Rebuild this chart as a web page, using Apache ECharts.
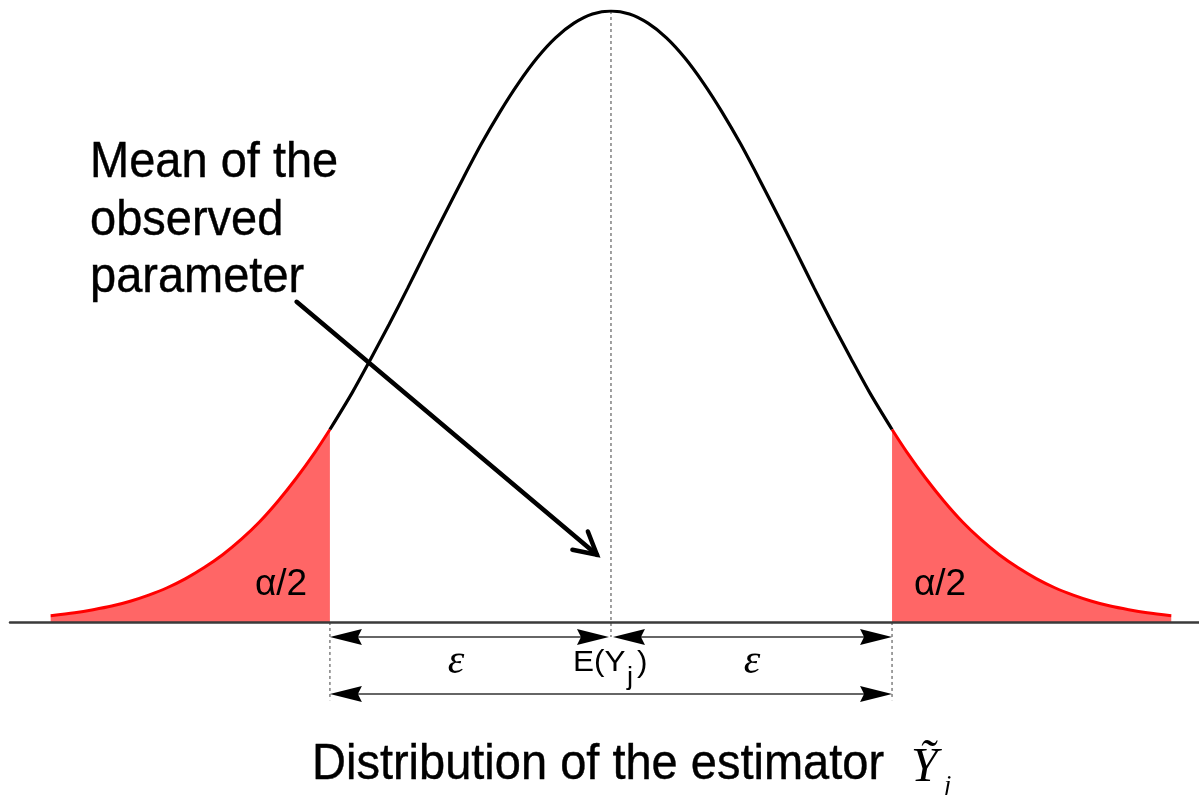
<!DOCTYPE html>
<html>
<head>
<meta charset="utf-8">
<script src="https://cdn.jsdelivr.net/npm/echarts@6/dist/echarts.min.js"></script>
<style>
  html, body { margin: 0; padding: 0; background: #fff; }
  #chart { width: 1199px; height: 795px; }
</style>
</head>
<body>
<div id="chart"></div>
<script>
// Sampled density of the estimator, x in standard deviations, height relative to the peak
const curveX = [-3.03, -2.9, -2.8, -2.7, -2.6, -2.5, -2.4, -2.3, -2.2, -2.1, -2.0, -1.9, -1.8, -1.7, -1.6, -1.52,
                -1.4, -1.3, -1.2, -1.1, -1.0, -0.9, -0.8, -0.7, -0.6, -0.5, -0.4, -0.3, -0.2, -0.1, 0,
                0.1, 0.2, 0.3, 0.4, 0.5, 0.6, 0.7, 0.8, 0.9, 1.0, 1.1, 1.2, 1.3, 1.4,
                1.52, 1.6, 1.7, 1.8, 1.9, 2.0, 2.1, 2.2, 2.3, 2.4, 2.5, 2.6, 2.7, 2.8, 2.9, 3.03];
const curveY = [0.010, 0.015, 0.020, 0.026, 0.034, 0.044, 0.056, 0.071, 0.089, 0.110, 0.135, 0.164, 0.198, 0.236, 0.278, 0.315,
                0.375, 0.430, 0.487, 0.546, 0.607, 0.667, 0.726, 0.783, 0.835, 0.882, 0.923, 0.956, 0.980, 0.995, 1.000,
                0.995, 0.980, 0.956, 0.923, 0.882, 0.835, 0.783, 0.726, 0.667, 0.607, 0.546, 0.487, 0.430, 0.375,
                0.315, 0.278, 0.236, 0.198, 0.164, 0.135, 0.110, 0.089, 0.071, 0.056, 0.044, 0.034, 0.026, 0.020, 0.015, 0.010];

// Critical values bounding the two rejection tails, and the mean
const cutLow = -1.52;
const cutHigh = 1.52;
const meanX = 0;

// Dimension arrows below the axis
const spanFrom  = [cutLow, meanX, cutLow];
const spanTo    = [meanX, cutHigh, cutHigh];
const spanLevel = [-0.0245, -0.0245, -0.118];

// Dotted guide lines
const guideX      = [cutLow, cutHigh, meanX];
const guideTop    = [0, 0, 1.0];
const guideBottom = [-0.128, -0.128, -0.0245];

// Pointer from the annotation to the mean
const pointerFrom = [-1.70, 0.524];
const pointerTo   = [-0.076, 0.110];

// Text
const noteLines  = ['Mean of the', 'observed', 'parameter'];
const tailText   = 'α/2';
const epsText    = 'ε';
const titleText  = 'Distribution of the estimator';

const pts = curveX.map((x, i) => [x, curveY[i]]);
const leftTail  = pts.filter(p => p[0] <= cutLow);
const body      = pts.filter(p => p[0] >= cutLow && p[0] <= cutHigh);
const rightTail = pts.filter(p => p[0] >= cutHigh);

const spans  = spanFrom.map((f, i) => [f, spanTo[i], spanLevel[i]]);
const guides = guideX.map((x, i) => [x, guideTop[i], guideBottom[i]]);

const SANS = "'Liberation Sans', Arial, sans-serif";
const SERIF = "'Liberation Serif', 'Times New Roman', serif";

function arrowHead(tip, dir, len, half, notch, fill) {
  // dir: +1 head points right, -1 points left
  const x = tip[0], y = tip[1];
  return {
    type: 'polygon',
    shape: { points: [[x, y], [x - dir * len, y - half], [x - dir * (len - notch), y], [x - dir * len, y + half]] },
    style: { fill: fill }
  };
}

function renderSpan(params, api) {
  const x1 = api.value(0), x2 = api.value(1), lv = api.value(2);
  const a = api.coord([x1, lv]);
  const b = api.coord([x2, lv]);
  if (x1 === meanX) a[0] += 2;
  if (x2 === meanX) b[0] -= 2;
  const lower = params.dataIndex === 2;
  return {
    type: 'group',
    children: [
      { type: 'line', shape: { x1: a[0] + 10, y1: a[1], x2: b[0] - 10, y2: b[1] },
        style: { stroke: lower ? '#666' : '#333', lineWidth: lower ? 2 : 1.6 } },
      arrowHead(a, -1, 32, 8, 4, '#000'),
      arrowHead(b, 1, 32, 8, 4, '#000')
    ]
  };
}

function renderGuide(params, api) {
  const top = api.coord([api.value(0), api.value(1)]);
  const bot = api.coord([api.value(0), api.value(2)]);
  return {
    type: 'line',
    shape: { x1: top[0], y1: top[1], x2: bot[0], y2: bot[1] },
    style: { stroke: '#808080', lineWidth: 1.5, lineDash: [3, 3] }
  };
}

function renderPointer(params, api) {
  const s = api.coord([api.value(0), api.value(1)]);
  const e = api.coord([api.value(2), api.value(3)]);
  const ang = Math.atan2(e[1] - s[1], e[0] - s[0]);
  const arm = 25, spread = 0.5;
  const p1 = [e[0] - arm * Math.cos(ang - spread), e[1] - arm * Math.sin(ang - spread)];
  const p2 = [e[0] - arm * Math.cos(ang + spread), e[1] - arm * Math.sin(ang + spread)];
  const st = { stroke: '#000', lineWidth: 4.5, lineCap: 'round', lineJoin: 'miter', fill: null };
  return {
    type: 'group',
    children: [
      { type: 'line', shape: { x1: s[0], y1: s[1], x2: e[0], y2: e[1] }, style: st },
      { type: 'polyline', shape: { points: [p1, e, p2] }, style: st }
    ]
  };
}

function label(text, x, y, size, opts) {
  opts = opts || {};
  return {
    type: 'text',
    x: x, y: y,
    scaleX: opts.sx || 1,
    scaleY: opts.sy || 1,
    z: 10,
    style: {
      text: text,
      x: 0, y: 0,
      fontFamily: opts.family || SANS,
      fontStyle: opts.italic ? 'italic' : 'normal',
      fontSize: size,
      fill: '#000',
      stroke: opts.bold ? '#000' : null,
      lineWidth: opts.bold || 0,
      align: opts.align || 'left',
      verticalAlign: 'middle'
    }
  };
}

const chart = echarts.init(document.getElementById('chart'), null, { renderer: 'canvas' });

chart.setOption({
  backgroundColor: '#ffffff',
  animation: false,
  grid: { left: 10, right: 0, top: 11, bottom: 87.5 },
  xAxis: {
    type: 'value', min: -3.25, max: 3.18, z: 5,
    axisLine: { show: true, onZero: true, lineStyle: { color: '#3a3a3a', width: 2.5 } },
    axisTick: { show: false }, axisLabel: { show: false }, splitLine: { show: false }
  },
  yAxis: {
    type: 'value', min: -0.14, max: 1, show: false,
    splitLine: { show: false }
  },
  series: [
    {
      type: 'line', data: leftTail, smooth: 0.3, symbol: 'none', z: 3,
      lineStyle: { color: '#ff0000', width: 3 },
      areaStyle: { color: '#ff6666', opacity: 1 }
    },
    {
      type: 'line', data: body, smooth: 0.3, symbol: 'none', z: 3,
      lineStyle: { color: '#000000', width: 3.2 }
    },
    {
      type: 'line', data: rightTail, smooth: 0.3, symbol: 'none', z: 3,
      lineStyle: { color: '#ff0000', width: 3 },
      areaStyle: { color: '#ff6666', opacity: 1 }
    },
    {
      type: 'custom', data: guides, renderItem: renderGuide, z: 2,
      encode: { x: 0, y: [1, 2] }
    },
    {
      type: 'custom', data: spans, renderItem: renderSpan, z: 4,
      encode: { x: [0, 1], y: 2 }
    },
    {
      type: 'custom', data: [[pointerFrom[0], pointerFrom[1], pointerTo[0], pointerTo[1]]],
      renderItem: renderPointer, z: 6,
      encode: { x: [0, 2], y: [1, 3] }
    }
  ],
  graphic: [
    label(noteLines[0], 90, 163.5, 47, { sy: 1.08, bold: 0.4 }),
    label(noteLines[1], 90, 221, 47, { sy: 1.08, bold: 0.4 }),
    label(noteLines[2], 90, 278, 47, { sy: 1.08, bold: 0.4 }),
    label(tailText, 281, 585, 37, { align: 'center' }),
    label(tailText, 940, 585, 37, { align: 'center' }),
    label(epsText, 456, 662, 42, { align: 'center', family: SERIF, italic: true }),
    label(epsText, 752, 662, 42, { align: 'center', family: SERIF, italic: true }),
    label('E(Y', 573, 663, 30, { sx: 1.05 }),
    label('j', 627, 678, 26, { sx: 1.05 }),
    label(')', 637, 664, 30, { sx: 1.05 }),
    label(titleText, 312, 765.5, 47, { sy: 1.07, bold: 0.4 }),
    label('Ỹ', 911, 768, 48, { family: SERIF, italic: true }),
    label('j', 944, 786, 26, { family: SERIF, italic: true })
  ]
});
</script>
</body>
</html>
